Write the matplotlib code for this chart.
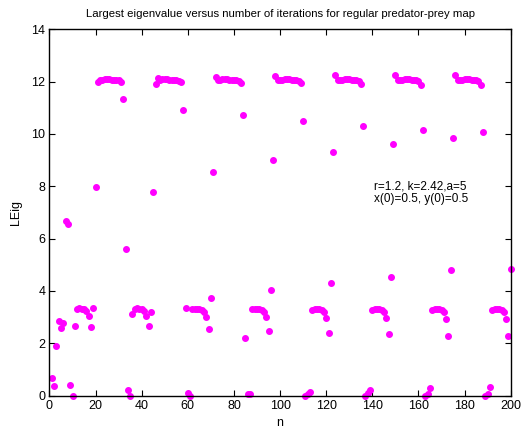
import matplotlib
matplotlib.use("Agg")
import matplotlib.pyplot as plt
import numpy as np

# iteration number and largest eigenvalue
n = np.arange(1, 201)
leig = [
    0.66, 0.36, 1.88, 2.86, 2.58, 2.78, 6.66, 6.55, 0.40, 0.00,
    2.66, 3.31, 3.33, 3.32, 3.29, 3.24, 3.05, 2.61, 3.35, 7.97,
    11.97, 12.06, 12.08, 12.09, 12.09, 12.09, 12.08, 12.07, 12.06, 12.05,
    12.00, 11.33, 5.59, 0.20, 0.00, 3.10, 3.30, 3.33, 3.32, 3.29,
    3.25, 3.05, 2.65, 3.18, 7.77, 11.90, 12.15, 12.08, 12.09, 12.09,
    12.09, 12.08, 12.08, 12.07, 12.06, 12.04, 11.97, 10.92, 3.35, 0.08,
    0.00, 3.29, 3.32, 3.32, 3.30, 3.26, 3.18, 3.01, 2.53, 3.72,
    8.55, 12.17, 12.06, 12.08, 12.09, 12.09, 12.09, 12.08, 12.07, 12.06,
    12.05, 12.03, 11.94, 10.71, 2.20, 0.04, 0.06, 3.29, 3.32, 3.32,
    3.30, 3.26, 3.18, 3.01, 2.46, 4.03, 9.00, 12.23, 12.05, 12.07,
    12.08, 12.09, 12.09, 12.09, 12.08, 12.07, 12.06, 12.04, 11.94, 10.51,
    0.00, 0.05, 0.13, 3.28, 3.32, 3.32, 3.30, 3.27, 3.19, 2.98,
    2.40, 4.29, 9.31, 12.27, 12.05, 12.07, 12.08, 12.09, 12.09, 12.09,
    12.08, 12.07, 12.06, 12.04, 11.90, 10.31, 0.00, 0.10, 0.20, 3.28,
    3.32, 3.32, 3.30, 3.27, 3.19, 2.98, 2.36, 4.53, 9.60, 12.27,
    12.05, 12.07, 12.08, 12.09, 12.09, 12.09, 12.08, 12.07, 12.06, 12.04,
    11.89, 10.14, 0.00, 0.05, 0.28, 3.28, 3.32, 3.32, 3.30, 3.27,
    3.19, 2.94, 2.29, 4.79, 9.85, 12.27, 12.05, 12.07, 12.08, 12.09,
    12.09, 12.09, 12.08, 12.07, 12.06, 12.04, 11.89, 10.07, 0.00, 0.05,
    0.33, 3.28, 3.32, 3.32, 3.30, 3.27, 3.19, 2.94, 2.29, 4.83,
]

x_ticks = list(range(0, 201, 20))
y_ticks = list(range(0, 15, 2))
title = "Largest eigenvalue versus number of iterations for regular predator-prey map"
note = "r=1.2, k=2.42,a=5\nx(0)=0.5, y(0)=0.5"

plt.rcParams["font.family"] = ["Liberation Sans", "DejaVu Sans"]

fig = plt.figure(figsize=(5.26, 4.34), dpi=100)
ax = fig.add_axes([0.094, 0.0887, 0.877, 0.8436])

ax.plot(n, leig, linestyle="none", marker="o", markersize=4.0,
        color="#ff00ff", markeredgecolor="#ff00ff", clip_on=False)

ax.set_xlim(0, 200)
ax.set_ylim(0, 14)
ax.set_xticks(x_ticks)
ax.set_yticks(y_ticks)
ax.tick_params(direction="in", top=True, right=True, length=4, width=0.8,
               labelsize=9, pad=3)
for s in ax.spines.values():
    s.set_linewidth(1.0)

ax.set_title(title, fontsize=8.2, pad=9)
ax.set_xlabel("n", fontsize=9, labelpad=4)
ax.set_ylabel("LEig", fontsize=9, labelpad=7)
ax.text(140.5, 7.75, note, fontsize=8.5, ha="left", va="center",
        linespacing=1.0)

fig.savefig("out.png", dpi=100)
